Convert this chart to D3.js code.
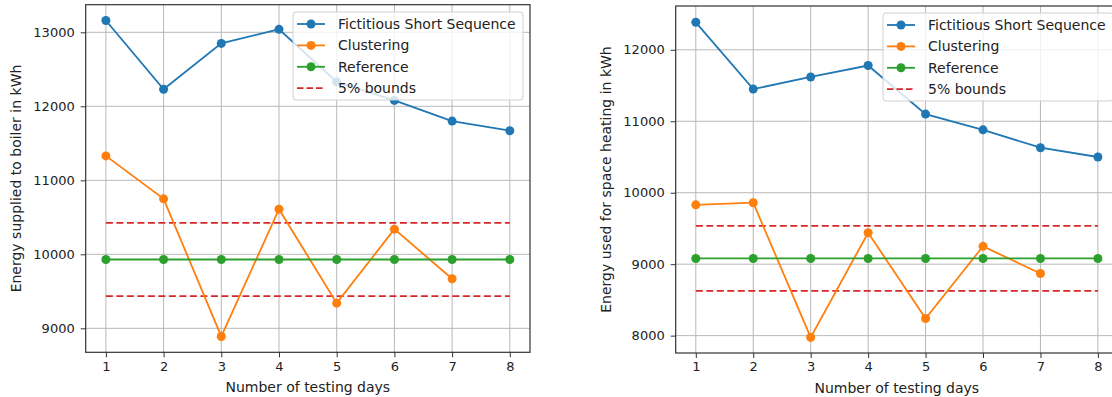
<!DOCTYPE html>
<html>
<head>
<meta charset="utf-8">
<script src="https://cdn.jsdelivr.net/npm/d3@7"></script>
<style>
  body { margin: 0; background: #fff; overflow: hidden; }
  svg { display: block; font-family: "DejaVu Sans", sans-serif; }
</style>
</head>
<body>
<svg id="chart" width="1112" height="397"></svg>
<script>
// values
const days = [1, 2, 3, 4, 5, 6, 7, 8];
const clusterDays = [1, 2, 3, 4, 5, 6, 7];

const boilerFSS = [13160, 12230, 12850, 13040, 12330, 12080, 11800, 11670];
const boilerClustering = [11330, 10750, 8890, 10610, 9340, 10340, 9670];
const boilerReference = [9930, 9930, 9930, 9930, 9930, 9930, 9930, 9930];
const boilerBounds = [10425, 9435];
const boilerTicks = [9000, 10000, 11000, 12000, 13000];
const boilerDomain = [8676, 13373];

const heatingFSS = [12385, 11450, 11620, 11780, 11100, 10880, 10630, 10500];
const heatingClustering = [9830, 9860, 7975, 9440, 8240, 9250, 8870];
const heatingReference = [9080, 9080, 9080, 9080, 9080, 9080, 9080, 9080];
const heatingBounds = [9535, 8625];
const heatingTicks = [8000, 9000, 10000, 11000, 12000];
const heatingDomain = [7757, 12613];

const legendLabels = ["Fictitious Short Sequence", "Clustering", "Reference", "5% bounds"];
const colors = ["#1f77b4", "#ff7f0e", "#2ca02c", "#d62728"];

const svg = d3.select("#chart");

function drawPanel(cfg) {
    const g = svg.append("g");
    const x = d3.scaleLinear().domain([0.65, 8.35]).range([cfg.left, cfg.right]);
    const y = d3.scaleLinear().domain(cfg.yDomain).range([cfg.bottom, cfg.top]);

    // grid
    g.append("g").selectAll("line").data(days).join("line")
        .attr("x1", d => x(d)).attr("x2", d => x(d))
        .attr("y1", cfg.top).attr("y2", cfg.bottom)
        .attr("stroke", "#b8b8b8").attr("stroke-width", 1);
    g.append("g").selectAll("line").data(cfg.ticks).join("line")
        .attr("x1", cfg.left).attr("x2", cfg.right)
        .attr("y1", d => y(d)).attr("y2", d => y(d))
        .attr("stroke", "#b8b8b8").attr("stroke-width", 1);

    // bounds
    g.append("g").selectAll("line").data(cfg.bounds).join("line")
        .attr("x1", x(1)).attr("x2", x(8))
        .attr("y1", d => y(d)).attr("y2", d => y(d))
        .attr("stroke", colors[3]).attr("stroke-width", 1.8)
        .attr("stroke-dasharray", "7,3.5");

    const line = d3.line().x(d => x(d[0])).y(d => y(d[1]));
    const series = [
        { xs: days, ys: cfg.fss, c: colors[0] },
        { xs: clusterDays, ys: cfg.clustering, c: colors[1] },
        { xs: days, ys: cfg.reference, c: colors[2] }
    ];
    series.forEach(s => {
        const pts = s.xs.map((d, i) => [d, s.ys[i]]);
        g.append("path").datum(pts)
            .attr("d", line).attr("fill", "none")
            .attr("stroke", s.c).attr("stroke-width", 1.8);
        g.append("g").selectAll("circle").data(pts).join("circle")
            .attr("cx", d => x(d[0])).attr("cy", d => y(d[1]))
            .attr("r", 4.5).attr("fill", s.c);
    });

    // frame
    g.append("rect")
        .attr("x", cfg.left).attr("y", cfg.top)
        .attr("width", cfg.right - cfg.left).attr("height", cfg.bottom - cfg.top)
        .attr("fill", "none").attr("stroke", "#333").attr("stroke-width", 1.2);

    // axes
    const xAxis = g.append("g").attr("transform", `translate(0,${cfg.bottom})`)
        .call(d3.axisBottom(x).tickValues(days).tickSize(5).tickSizeOuter(0).tickPadding(4));
    const yAxis = g.append("g").attr("transform", `translate(${cfg.left},0)`)
        .call(d3.axisLeft(y).tickValues(cfg.ticks).tickFormat(d3.format("d")).tickSize(5).tickSizeOuter(0).tickPadding(6));
    [xAxis, yAxis].forEach(a => {
        a.select(".domain").remove();
        a.selectAll("line").attr("stroke", "#333").attr("stroke-width", 1);
        a.selectAll("text").attr("fill", "#222").style("font-size", "13px")
            .style("font-family", "DejaVu Sans, sans-serif");
    });

    g.append("text")
        .attr("x", (cfg.left + cfg.right) / 2 - (cfg.clipShift || 0)).attr("y", cfg.bottom + 40)
        .attr("text-anchor", "middle").attr("fill", "#222").style("font-size", "14px")
        .text("Number of testing days");
    g.append("text")
        .attr("transform", `translate(${cfg.left - 65},${(cfg.top + cfg.bottom) / 2}) rotate(-90)`)
        .attr("text-anchor", "middle").attr("fill", "#222").style("font-size", "14px")
        .text(cfg.yLabel);

    // legend
    const lg = g.append("g").attr("transform", `translate(${cfg.legendX},${cfg.legendY})`);
    lg.append("rect").attr("x", 0).attr("y", 0).attr("width", 230).attr("height", 88)
        .attr("rx", 3).attr("fill", "#fff").attr("fill-opacity", 0.8)
        .attr("stroke", "#d0d0d0").attr("stroke-width", 1);
    legendLabels.forEach((lab, i) => {
        const yy = 12 + i * 21.4;
        const it = lg.append("g");
        it.append("line").attr("x1", 4).attr("x2", 32).attr("y1", yy).attr("y2", yy)
            .attr("stroke", colors[i]).attr("stroke-width", 1.8)
            .attr("stroke-dasharray", i === 3 ? "6.5,3" : null);
        if (i < 3) it.append("circle").attr("cx", 18).attr("cy", yy).attr("r", 4.5).attr("fill", colors[i]);
        it.append("text").attr("x", 45).attr("y", yy + 5).attr("fill", "#222")
            .style("font-size", "14px").text(lab);
    });
}

drawPanel({
    left: 85.7, right: 530, top: 4.7, bottom: 352.3,
    yDomain: boilerDomain, ticks: boilerTicks,
    fss: boilerFSS, clustering: boilerClustering, reference: boilerReference, bounds: boilerBounds,
    yLabel: "Energy supplied to boiler in kWh",
    legendX: 293, legendY: 12
});
drawPanel({
    left: 675.7, right: 1118, top: 6, bottom: 353,
    yDomain: heatingDomain, ticks: heatingTicks,
    fss: heatingFSS, clustering: heatingClustering, reference: heatingReference, bounds: heatingBounds,
    yLabel: "Energy used for space heating in kWh",
    legendX: 883, legendY: 13
});
</script>
</body>
</html>
